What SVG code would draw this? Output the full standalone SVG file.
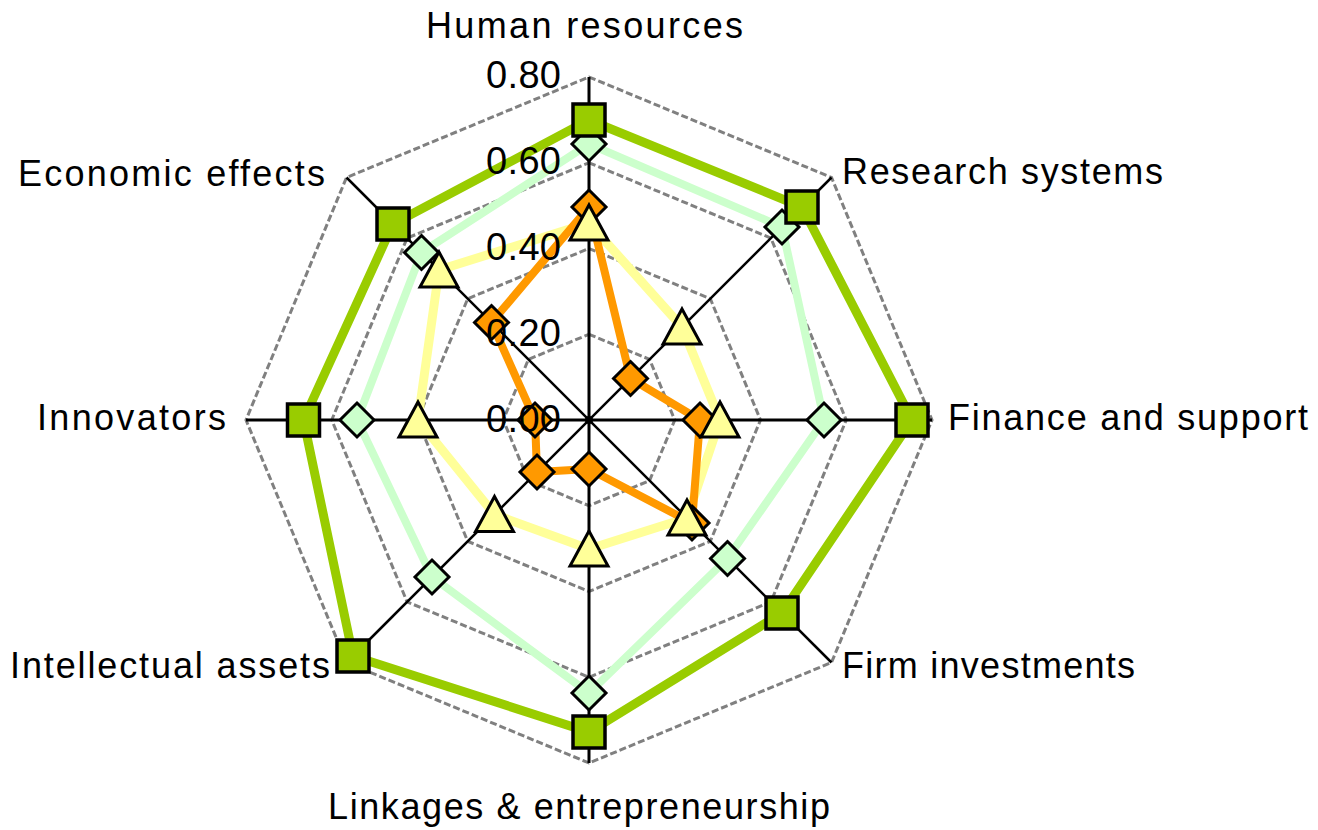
<svg xmlns="http://www.w3.org/2000/svg" width="1318" height="830" viewBox="0 0 1318 830">
<style>
.grid{fill:none;stroke:#808080;stroke-width:3;stroke-dasharray:7 3}
.spoke{stroke:#000;stroke-width:3}
.diag{stroke:#000;stroke-width:2.5}
.ln{fill:none;stroke-linejoin:miter}
.lbl{font-family:"Liberation Sans",Arial,sans-serif;font-size:36px;fill:#000}
.tick{font-family:"Liberation Sans",Arial,sans-serif;font-size:38px;fill:#000;text-anchor:end}
.sq{fill:#99CC00;stroke:#000;stroke-width:3.5}
.dlg{fill:#CCFFCC;stroke:#000;stroke-width:3}
.dor{fill:#FF9900;stroke:#000;stroke-width:3}
.tri{fill:#FFFF99;stroke:#000;stroke-width:3}
</style>
<defs>
<rect id="mSq" x="-16" y="-16" width="32" height="32" class="sq"/>
<polygon id="mDg" points="0,-17 17,0 0,17 -17,0" class="dlg"/>
<polygon id="mDo" points="0,-17 17,0 0,17 -17,0" class="dor"/>
<polygon id="mTr" points="0,-18 19,17 -19,17" class="tri"/>
</defs>
<rect width="1318" height="830" fill="#fff"/>
<g id="grid">
<polygon class="grid" points="589,77 831.5,177.5 932,420 831.5,662.5 589,763 346.5,662.5 246,420 346.5,177.5"/>
<polygon class="grid" points="589,162.75 770.9,238.1 846.25,420 770.9,601.9 589,677.25 407.1,601.9 331.75,420 407.1,238.1"/>
<polygon class="grid" points="589,248.5 710.3,298.7 760.5,420 710.3,541.3 589,591.5 467.7,541.3 417.5,420 467.7,298.7"/>
<polygon class="grid" points="589,334.25 649.6,359.4 674.75,420 649.6,480.6 589,505.75 528.4,480.6 503.25,420 528.4,359.4"/>
</g>
<g id="connectors">
<line class="spoke" x1="589" y1="77" x2="589" y2="763"/>
<line class="spoke" x1="246" y1="420" x2="932" y2="420"/>
<line class="diag" x1="346.5" y1="177.5" x2="831.5" y2="662.5"/>
<line class="diag" x1="831.5" y1="177.5" x2="346.5" y2="662.5"/>
<circle cx="589" cy="420" r="4" fill="#000"/>
</g>
<g id="series-lines">
<polygon class="ln" stroke="#99CC00" stroke-width="9" points="589,120 802,207 912,420 782,613 589,732 353,656 303.5,420 393,224"/>
<polygon class="ln" stroke="#CCFFCC" stroke-width="8" points="589,144 782,227 824,420 727.5,558.5 589,693 432,577 357,420 421.5,252.5"/>
<polygon class="ln" stroke="#FFFF99" stroke-width="9" points="589,223 682,327 720,420 687,518 589,549 494.5,514.5 418,420 439,270"/>
<polygon class="ln" stroke="#FF9900" stroke-width="8" points="589,207 630.5,378.5 700,420 692,523 589,469 537,472 535,420 491.5,322.5"/>
</g>
<g id="markers-orange">
<use href="#mDo" x="589" y="207"/><use href="#mDo" x="630.5" y="378.5"/><use href="#mDo" x="700" y="420"/><use href="#mDo" x="692" y="523"/>
<use href="#mDo" x="589" y="469"/><use href="#mDo" x="537" y="472"/><use href="#mDo" x="535" y="420"/><use href="#mDo" x="491.5" y="322.5"/>
</g>
<g id="markers-lightgreen">
<use href="#mDg" x="589" y="144"/><use href="#mDg" x="782" y="227"/><use href="#mDg" x="824" y="420"/><use href="#mDg" x="727.5" y="558.5"/>
<use href="#mDg" x="589" y="693"/><use href="#mDg" x="432" y="577"/><use href="#mDg" x="357" y="420"/><use href="#mDg" x="421.5" y="252.5"/>
</g>
<g id="markers-yellow">
<use href="#mTr" x="589" y="223"/><use href="#mTr" x="682" y="327"/><use href="#mTr" x="720" y="420"/><use href="#mTr" x="687" y="518"/>
<use href="#mTr" x="589" y="549"/><use href="#mTr" x="494.5" y="514.5"/><use href="#mTr" x="418" y="420"/><use href="#mTr" x="439" y="270"/>
</g>
<g id="markers-green">
<use href="#mSq" x="589" y="120"/><use href="#mSq" x="802" y="207"/><use href="#mSq" x="912" y="420"/><use href="#mSq" x="782" y="613"/>
<use href="#mSq" x="589" y="732"/><use href="#mSq" x="353" y="656"/><use href="#mSq" x="303.5" y="420"/><use href="#mSq" x="393" y="224"/>
</g>
<g id="ticks">
<text class="tick" x="561" y="88" textLength="75">0.80</text>
<text class="tick" x="561" y="174" textLength="75">0.60</text>
<text class="tick" x="561" y="260" textLength="75">0.40</text>
<text class="tick" x="561" y="346" textLength="75">0.20</text>
<text class="tick" x="561" y="432" textLength="75">0.00</text>
</g>
<g id="node-human"><text class="lbl" x="426" y="38" textLength="317">Human resources</text></g>
<g id="node-research"><text class="lbl" x="842" y="184" textLength="321">Research systems</text></g>
<g id="node-finance"><text class="lbl" x="948" y="430" textLength="360">Finance and support</text></g>
<g id="node-firm"><text class="lbl" x="842" y="678" textLength="293">Firm investments</text></g>
<g id="node-linkages"><text class="lbl" x="328" y="819" textLength="502">Linkages &amp; entrepreneurship</text></g>
<g id="node-intellectual"><text class="lbl" x="10" y="678" textLength="320">Intellectual assets</text></g>
<g id="node-innovators"><text class="lbl" x="37" y="430" textLength="189">Innovators</text></g>
<g id="node-economic"><text class="lbl" x="18" y="186" textLength="307">Economic effects</text></g>
</svg>
